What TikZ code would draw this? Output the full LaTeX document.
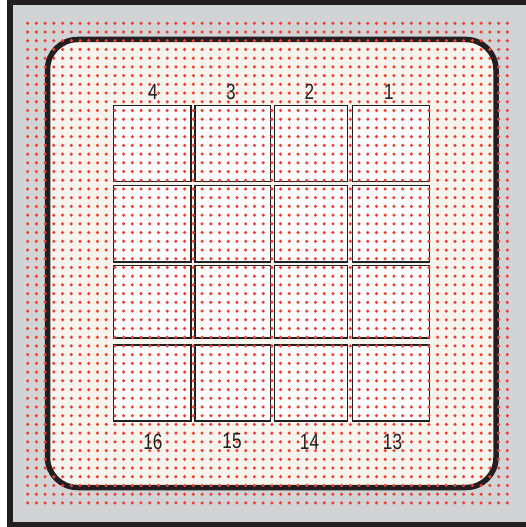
\documentclass[tikz,border=0pt]{standalone}
\usepackage{fontspec}
\newfontfamily\lblfont[FakeStretch=0.78]{Liberation Sans}
\definecolor{ink}{HTML}{231F20}
\definecolor{framegray}{HTML}{D1D3D4}
\definecolor{cream}{HTML}{F6F4EC}
\definecolor{dotred}{HTML}{EE3E36}
\tikzset{
  sq/.style={draw=ink, line width=1.9pt, fill=white, inner sep=0pt, outer sep=0pt},
  lbl/.style={font=\lblfont\fontsize{22pt}{22pt}\selectfont, text=ink, inner sep=0pt},
  dot/.style={fill=dotred}
}
\begin{document}
\begin{tikzpicture}[x=1pt,y=-1pt]
\useasboundingbox (0,0) rectangle (526,527);
\fill[white] (0,0) rectangle (526,527);
\fill[ink] (7,0) rectangle (526,527);
\fill[framegray] (13,5) rectangle (526,521.5);
\draw[ink, line width=5.5pt, fill=cream, rounded corners=30pt] (47.5,39.5) rectangle (496,487.5);
% squares
\def\colL{{113.5,195,274.5,352.5}}
\def\colR{{191,270.5,347.5,429.5}}
\def\rowT{{105.5,185.5,265.5,345}}
\def\rowB{{181.5,262,338,421}}
\foreach \r in {0,...,3}{
  \foreach \c in {0,...,3}{
    \pgfmathsetmacro{\xl}{\colL[\c]}
    \pgfmathsetmacro{\xr}{\colR[\c]}
    \pgfmathsetmacro{\yt}{\rowT[\r]}
    \pgfmathsetmacro{\yb}{\rowB[\r]}
    \pgfmathsetmacro{\w}{\xr-\xl}
    \pgfmathsetmacro{\h}{\yb-\yt}
    \node[sq, minimum width=\w pt, minimum height=\h pt] (s\r\c) at ({(\xl+\xr)/2},{(\yt+\yb)/2}) {};
  }
}
% dots
\foreach \i in {0,...,55}{
  \foreach \j in {0,...,55}{
    \fill[dot] ({27.7+\i*8.72},{23.3+\j*8.72}) circle (1.75pt);
  }
}
% labels
\node[lbl] (l4) at (153,92) {4};
\node[lbl] (l3) at (231,92) {3};
\node[lbl] (l2) at (309.5,92) {2};
\node[lbl] (l1) at (389,92) {1};
\node[lbl] (l16) at (153,441.5) {16};
\node[lbl] (l15) at (232,441.5) {15};
\node[lbl] (l14) at (309.5,441.5) {14};
\node[lbl] (l13) at (392.5,441.5) {13};
\end{tikzpicture}
\end{document}
